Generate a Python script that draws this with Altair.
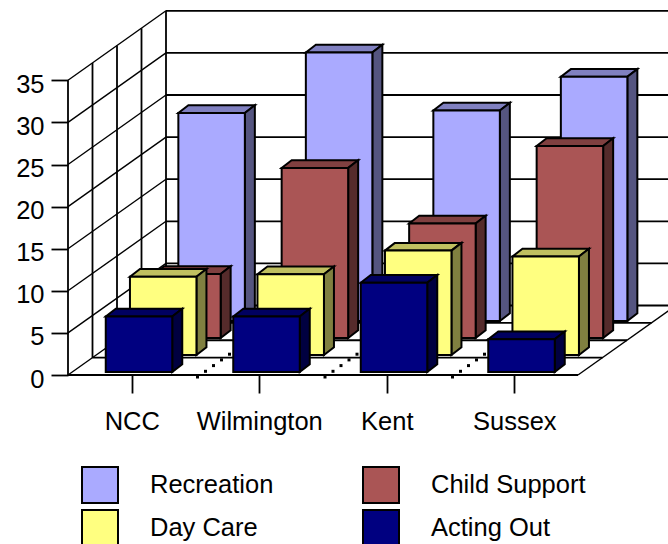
import altair as alt
import pandas as pd

FONT = "Liberation Sans"
LABEL_SIZE = 25.5

# Chart values
categories = ["NCC", "Wilmington", "Kent", "Sussex"]
series_names = ["Recreation", "Child Support", "Day Care", "Acting Out"]
recreation = [24.7, 31.9, 25.0, 29.0]
child_support = [7.6, 20.2, 13.6, 22.8]
day_care = [9.3, 9.6, 12.4, 11.7]
acting_out = [6.6, 6.6, 10.6, 3.9]
series_values = [recreation, child_support, day_care, acting_out]
y_ticks = [0, 5, 10, 15, 20, 25, 30, 35]

# Face colours, one per series, ordered back row to front row
front_colors = ["#AAAAFF", "#AA5555", "#FFFF80", "#000080"]
side_colors = ["#555580", "#552B2B", "#808040", "#000040"]
top_colors = ["#8080C0", "#804040", "#C0C060", "#000060"]

# Oblique projection, in axis units (categories across, value units up)
PX_PER_CAT = 127.5
PX_PER_VALUE = 8.42
WALL_DX = 98 / PX_PER_CAT
WALL_DY = 69.5 / PX_PER_VALUE
ROW_DX = 24.2 / PX_PER_CAT
ROW_DY = 17.0 / PX_PER_VALUE
BAR_START = -26 / PX_PER_CAT
BAR_WIDTH = 66.5 / PX_PER_CAT
BAR_LIFT = 3 / PX_PER_VALUE
DEPTH_DX = 10 / PX_PER_CAT
DEPTH_DY = 7.7 / PX_PER_VALUE
N_ROWS = len(series_names)

X_MIN = -0.5
X_FLOOR_END = X_MIN + len(categories)
x_scale = alt.Scale(domain=[X_MIN, X_MIN + 600 / PX_PER_CAT], nice=False, zero=False)
y_scale = alt.Scale(domain=[0, 375 / PX_PER_VALUE], nice=False, zero=False)

x_axis = alt.Axis(
    title=None,
    values=list(range(len(categories))),
    labelExpr="['NCC','Wilmington','Kent','Sussex'][datum.value]",
    domain=False,
    grid=False,
    tickSize=18,
    tickWidth=1.8,
    tickColor="black",
    labelFont=FONT,
    labelFontSize=LABEL_SIZE,
    labelColor="black",
    labelPadding=16,
    labelFlush=False,
    labelOverlap=False,
)
y_axis = alt.Axis(
    title=None,
    values=y_ticks,
    domain=False,
    grid=False,
    tickSize=17,
    tickWidth=1.8,
    tickColor="black",
    labelFont=FONT,
    labelFontSize=LABEL_SIZE,
    labelColor="black",
    labelPadding=7,
    labelOffset=4,
    labelOverlap=False,
)


def qx():
    return alt.X("x:Q", scale=x_scale, axis=x_axis)


def qy():
    return alt.Y("y:Q", scale=y_scale, axis=y_axis)


# Wall and floor lines
segments = []


def segment(x0, y0, x1, y1):
    sid = len(segments)
    segments.append({"id": sid, "x": x0, "y": y0})
    segments.append({"id": sid, "x": x1, "y": y1})


for tick in y_ticks:
    segment(X_MIN, tick, X_MIN + WALL_DX, tick + WALL_DY)
segment(X_FLOOR_END, 0, X_FLOOR_END + WALL_DX, WALL_DY)
diagonals = pd.DataFrame(segments)

segments = []
for k in range(N_ROWS + 1):
    f = k / N_ROWS
    segment(X_MIN + f * WALL_DX, f * WALL_DY, X_MIN + f * WALL_DX, y_ticks[-1] + f * WALL_DY)
    segment(X_MIN + f * WALL_DX, f * WALL_DY, X_FLOOR_END + f * WALL_DX, f * WALL_DY)
for tick in y_ticks[1:]:
    segment(X_MIN + WALL_DX, tick + WALL_DY, X_FLOOR_END + WALL_DX, tick + WALL_DY)
straights = pd.DataFrame(segments)

diagonal_layer = (
    alt.Chart(diagonals)
    .mark_line(color="black", strokeWidth=1.4)
    .encode(x=qx(), y=qy(), detail="id:N")
)
straight_layer = (
    alt.Chart(straights)
    .mark_line(color="black", strokeWidth=1.8)
    .encode(x=qx(), y=qy(), detail="id:N")
)

# Dotted floor dividers between categories
dot_rows = []
for boundary in [0.5, 1.5, 2.5]:
    for k in range(5):
        dot_rows.append(
            {
                "x": boundary + (2 + 8 * k) / PX_PER_CAT,
                "y": (-2 + 5.7 * k) / PX_PER_VALUE,
            }
        )
dot_layer = (
    alt.Chart(pd.DataFrame(dot_rows))
    .mark_square(color="black", filled=True, size=9, opacity=1)
    .encode(x=qx(), y=qy())
)

legend = alt.Legend(
    title=None,
    orient="none",
    direction="horizontal",
    legendX=13,
    legendY=466,
    columns=2,
    symbolType="square",
    symbolSize=1296,
    symbolStrokeColor="black",
    symbolStrokeWidth=2,
    symbolOpacity=1,
    labelFont=FONT,
    labelFontSize=LABEL_SIZE,
    labelColor="black",
    labelOffset=31,
    labelLimit=0,
    columnPadding=85,
    rowPadding=-1,
    padding=0,
)

layers = [diagonal_layer, straight_layer, dot_layer]

# Bars are stacked back row first so nearer rows cover farther ones
for i, (name, values) in enumerate(zip(series_names, series_values)):
    row = N_ROWS - 1 - i
    fronts, sides, tops = [], [], []
    for c, v in enumerate(values):
        x0 = c + BAR_START + row * ROW_DX
        x1 = x0 + BAR_WIDTH
        base = BAR_LIFT + row * ROW_DY
        top = base + v
        fronts.append({"series": name, "x": x0, "x2": x1, "y": base, "y2": top})
        sides.append({"bar": c, "x": x1, "y": base, "y2": top})
        sides.append({"bar": c, "x": x1 + DEPTH_DX, "y": base + DEPTH_DY, "y2": top + DEPTH_DY})
        tops.append({"bar": c, "y": top, "x": x0, "x2": x1})
        tops.append({"bar": c, "y": top + DEPTH_DY, "x": x0 + DEPTH_DX, "x2": x1 + DEPTH_DX})
    layers.append(
        alt.Chart(pd.DataFrame(tops))
        .mark_area(orient="horizontal", color=top_colors[i], stroke="black", strokeWidth=2, opacity=1)
        .encode(y=qy(), x=qx(), x2="x2:Q", detail="bar:N")
    )
    layers.append(
        alt.Chart(pd.DataFrame(sides))
        .mark_area(orient="vertical", color=side_colors[i], stroke="black", strokeWidth=2, opacity=1)
        .encode(x=qx(), y=qy(), y2="y2:Q", detail="bar:N")
    )
    layers.append(
        alt.Chart(pd.DataFrame(fronts))
        .mark_rect(stroke="black", strokeWidth=2, opacity=1)
        .encode(
            x=qx(),
            x2="x2:Q",
            y=qy(),
            y2="y2:Q",
            color=alt.Color(
                "series:N",
                scale=alt.Scale(domain=series_names, range=front_colors),
                legend=legend,
            ),
        )
    )

chart = (
    alt.layer(*layers)
    .properties(
        width=600,
        height=375,
        padding={"left": 68, "top": 0, "right": 0, "bottom": 169},
        autosize=alt.AutoSizeParams(type="none"),
        background="white",
    )
    .configure_view(stroke=None)
)

chart.save("out.html", embed_options={"renderer": "svg", "actions": False})
